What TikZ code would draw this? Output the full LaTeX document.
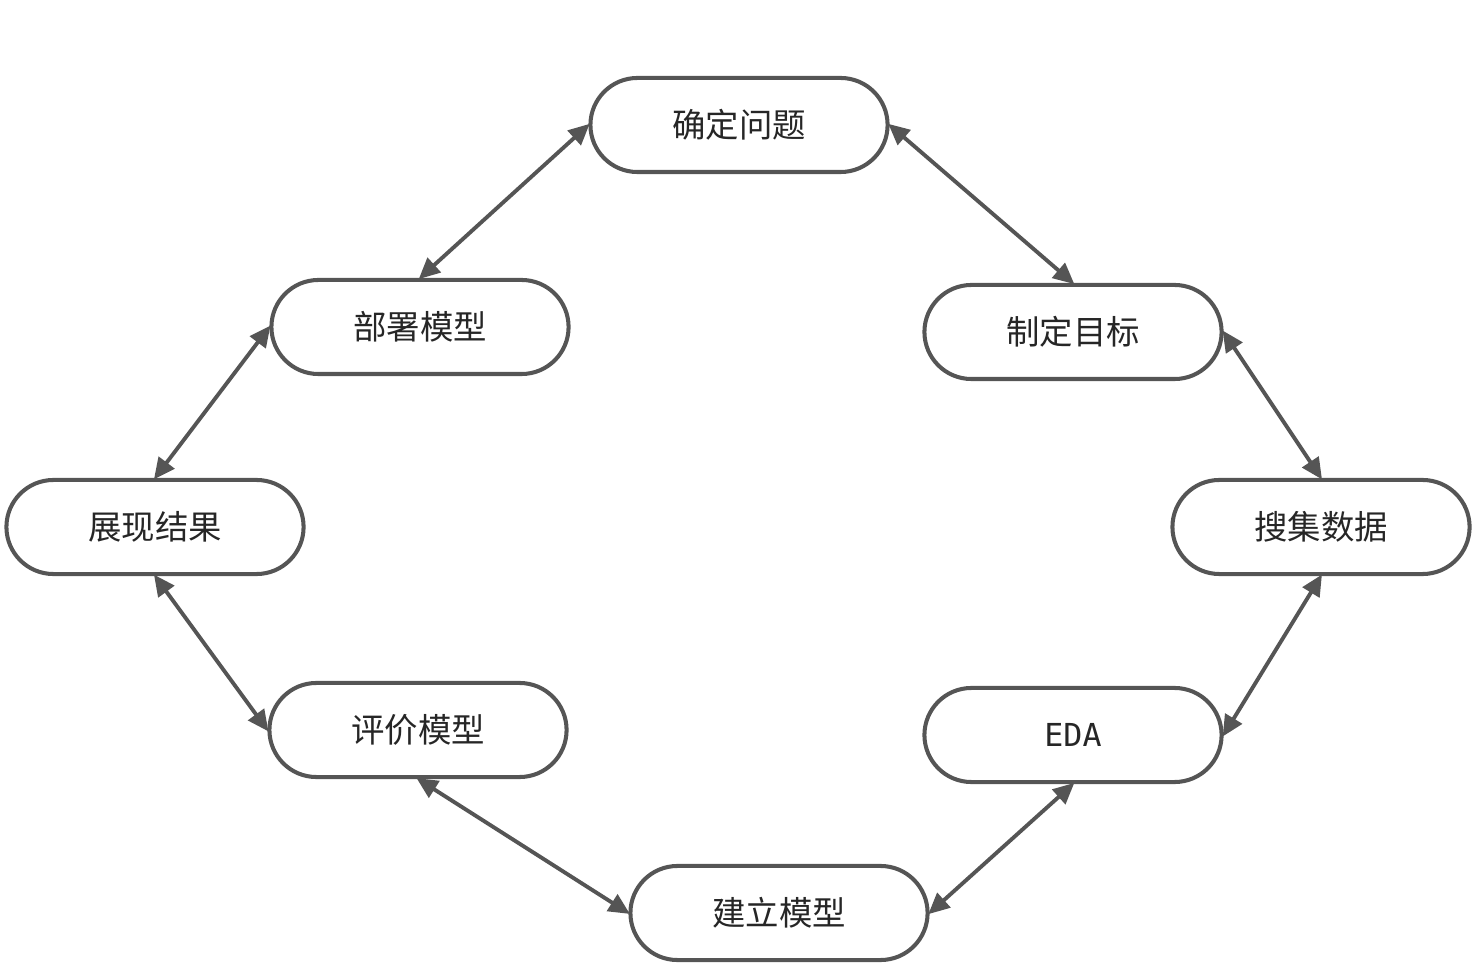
\documentclass[tikz,border=0pt]{standalone}
\usepackage{fontspec}
\newfontfamily\cjk{Noto Sans CJK SC}
\newfontfamily\monofont{DejaVu Sans Mono}
\usetikzlibrary{arrows.meta,shapes.misc}
\definecolor{lc}{HTML}{555555}
\begin{document}
\begin{tikzpicture}[x=0.01cm,y=-0.01cm,
  pill/.style={draw=lc,line width=1.15pt,rounded rectangle,minimum width=2.97cm,minimum height=0.94cm,inner sep=0pt,font=\cjk\fontsize{9.5}{11}\selectfont,text=black!85},
  link/.style={draw=lc,line width=1.1pt,{Triangle[length=6pt,width=5.5pt]}-{Triangle[length=6pt,width=5.5pt]},shorten <=-0.5pt,shorten >=-0.5pt}]
\useasboundingbox (0,0) rectangle (1477,965);
\node[pill] (q) at (739,125) {确定问题};
\node[pill] (g) at (1073,332) {制定目标};
\node[pill] (d) at (1321,527) {搜集数据};
\node[pill,font=\monofont\fontsize{9}{11}\selectfont] (e) at (1073,735) {EDA};
\node[pill] (m) at (779,913) {建立模型};
\node[pill] (v) at (418,730) {评价模型};
\node[pill] (r) at (155,527) {展现结果};
\node[pill] (p) at (420,327) {部署模型};
\draw[link] (q.west) -- (p.north);
\draw[link] (q.east) -- (g.north);
\draw[link] (g.east) -- (d.north);
\draw[link] (d.south) -- (e.east);
\draw[link] (e.south) -- (m.east);
\draw[link] (m.west) -- (v.south);
\draw[link] (v.west) -- (r.south);
\draw[link] (r.north) -- (p.west);
\end{tikzpicture}
\end{document}
